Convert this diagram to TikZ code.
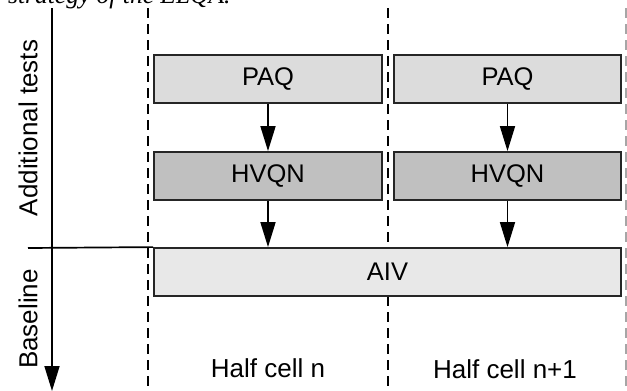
\documentclass[tikz,border=0pt]{standalone}
\usepackage{fontspec}
\setmainfont{Liberation Sans}
\newfontfamily\capfont{Liberation Serif}
\usetikzlibrary{arrows.meta}
\definecolor{paqfill}{HTML}{DCDCDC}
\definecolor{hvqnfill}{HTML}{C0C0C0}
\definecolor{aivfill}{HTML}{E8E8E8}
\begin{document}
\begin{tikzpicture}[x=1pt,y=-1pt,
  box/.style={draw=black!85,line width=1.8pt,minimum height=48pt,inner sep=0pt,
    font=\fontsize{25.5}{30}\selectfont},
  arr/.style={line width=1.7pt,-{Triangle[length=25pt,width=15pt]}},
  dashv/.style={line width=1.7pt,dash pattern=on 10pt off 6pt},
  lbl/.style={font=\fontsize{26}{30}\selectfont,inner sep=0pt}]
\useasboundingbox (0,0) rectangle (627,391);
\begin{scope}
\clip (0,0) rectangle (627,391);
\node[anchor=base west,inner sep=0pt,font=\capfont\itshape\fontsize{25.5}{30}\selectfont] (cap) at (8,3) {strategy of the ELQA.};
\end{scope}
% dashed separators
\coordinate (d1t) at (148,8); \coordinate (d1b) at (148,391);
\coordinate (d2t) at (388,8); \coordinate (d2b) at (388,391);
\coordinate (d3t) at (626,8); \coordinate (d3b) at (626,391);
\draw[dashv] (d1t) -- (d1b);
\draw[dashv] (d2t) -- (d2b);
\draw[dashv,draw=black!35] (d3t) -- (d3b);
% boxes
\node[box,fill=paqfill,minimum width=228pt] (paq1) at (268,79) {PAQ};
\node[box,fill=paqfill,minimum width=227pt] (paq2) at (507.5,79) {PAQ};
\node[box,fill=hvqnfill,minimum width=228pt] (hvqn1) at (268,176) {HVQN};
\node[box,fill=hvqnfill,minimum width=227pt] (hvqn2) at (507.5,176) {HVQN};
\node[box,fill=aivfill,minimum width=467pt] (aiv) at (387.5,272) {AIV};
% arrows
\draw[arr] (paq1) -- (hvqn1);
\draw[arr] (paq2) -- (hvqn2);
\draw[arr] (hvqn1.south) -- (hvqn1.south |- aiv.north);
\draw[arr] (hvqn2.south) -- (hvqn2.south |- aiv.north);
% axis
\coordinate (axt) at (52,8); \coordinate (axb) at (52,391);
\draw[arr] (axt) -- (axb);
\coordinate (hl) at (28,248);
\draw[line width=1.7pt] (hl) -- (aiv.north west);
% labels
\node[lbl,rotate=90] (addl) at (28,128) {Additional tests};
\node[lbl,rotate=90] (base) at (28,319) {Baseline};
\node[lbl,anchor=base] (hc1) at (268,377) {Half cell n};
\node[lbl,anchor=base] (hc2) at (505,378) {Half cell n+1};
\end{tikzpicture}
\end{document}
